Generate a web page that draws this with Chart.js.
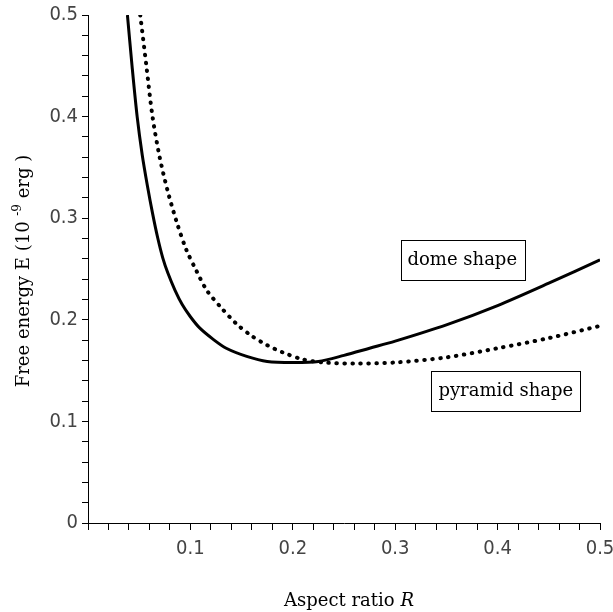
<!DOCTYPE html>
<html>
<head>
<meta charset="utf-8">
<script src="https://cdn.jsdelivr.net/npm/chart.js@4.4.1/dist/chart.umd.min.js"></script>
<style>
  html, body { margin: 0; padding: 0; background: #fff; }
  #wrap { width: 613px; height: 612px; }
</style>
</head>
<body>
<div id="wrap"><canvas id="energy"></canvas></div>
<script>
// aspect ratio R と自由エネルギー E (10^-9 erg)
const domeR = [0.0385, 0.043, 0.048, 0.053, 0.058, 0.063, 0.068, 0.073, 0.078, 0.085, 0.092, 0.100, 0.109, 0.122, 0.135, 0.155, 0.175, 0.200, 0.225, 0.250, 0.275, 0.300, 0.350, 0.400, 0.450, 0.500];
const domeE = [0.500, 0.450, 0.400, 0.362, 0.332, 0.305, 0.281, 0.261, 0.246, 0.229, 0.215, 0.203, 0.192, 0.181, 0.172, 0.164, 0.159, 0.158, 0.159, 0.165, 0.172, 0.179, 0.195, 0.214, 0.236, 0.259];

const pyramidR = [0.051, 0.057, 0.063, 0.070, 0.078, 0.087, 0.096, 0.106, 0.116, 0.130, 0.145, 0.160, 0.175, 0.190, 0.210, 0.230, 0.260, 0.300, 0.350, 0.400, 0.450, 0.500];
const pyramidE = [0.500, 0.450, 0.400, 0.360, 0.326, 0.295, 0.269, 0.248, 0.229, 0.212, 0.196, 0.184, 0.175, 0.168, 0.161, 0.158, 0.157, 0.158, 0.163, 0.172, 0.182, 0.194];

const xTicks = [0.1, 0.2, 0.3, 0.4, 0.5];
const yTicks = [0, 0.1, 0.2, 0.3, 0.4, 0.5];

const toPoints = (xs, ys) => xs.map((x, i) => ({ x: x, y: ys[i] }));
const isMajor = (v, list) => list.some(t => Math.abs(t - v) < 1e-6);

// 曲線ラベル（枠付き）
const shapeLabels = [
    { text: 'dome shape', x: 0.3655, y: 0.259 },
    { text: 'pyramid shape', x: 0.408, y: 0.130 }
];

const serif = '"DejaVu Serif", "Liberation Serif", serif';

const overlayPlugin = {
    id: 'overlay',
    afterDraw(chart) {
        const ctx = chart.ctx;
        const xs = chart.scales.x;
        const ys = chart.scales.y;
        ctx.save();
        ctx.fillStyle = '#000';
        ctx.strokeStyle = '#000';
        ctx.lineWidth = 1;

        // 枠付きラベル
        ctx.font = '18px ' + serif;
        ctx.textAlign = 'center';
        ctx.textBaseline = 'middle';
        shapeLabels.forEach(l => {
            const cx = xs.getPixelForValue(l.x);
            const cy = ys.getPixelForValue(l.y);
            const w = ctx.measureText(l.text).width + 14;
            const h = 40;
            ctx.strokeRect(Math.round(cx - w / 2) + 0.5, Math.round(cy - h / 2) + 0.5, Math.round(w), h);
            ctx.fillText(l.text, cx, cy);
        });

        // x 軸タイトル
        ctx.textAlign = 'left';
        ctx.textBaseline = 'alphabetic';
        const t1 = 'Aspect ratio ';
        ctx.font = '18px ' + serif;
        const w1 = ctx.measureText(t1).width;
        ctx.font = 'italic 18px ' + serif;
        const w2 = ctx.measureText('R').width;
        const sx = 349 - (w1 + w2) / 2;
        ctx.font = '18px ' + serif;
        ctx.fillText(t1, sx, 606);
        ctx.font = 'italic 18px ' + serif;
        ctx.fillText('R', sx + w1, 606);

        // y 軸タイトル（上付き -9）
        ctx.translate(29, 271);
        ctx.rotate(-Math.PI / 2);
        const parts = [
            { s: 'Free energy E (10 ', f: '18px ' + serif, dy: 0 },
            { s: '-9', f: '12px ' + serif, dy: -8 },
            { s: ' erg )', f: '18px ' + serif, dy: 0 }
        ];
        let total = 0;
        parts.forEach(p => { ctx.font = p.f; total += ctx.measureText(p.s).width; });
        let px = -total / 2;
        parts.forEach(p => {
            ctx.font = p.f;
            ctx.fillText(p.s, px, p.dy);
            px += ctx.measureText(p.s).width;
        });
        ctx.restore();
    }
};

const tickFont = { family: '"Liberation Sans Narrow", "DejaVu Sans Condensed", sans-serif', size: 20 };

new Chart(document.getElementById('energy'), {
    type: 'scatter',
    data: {
        datasets: [
            {
                label: 'dome shape',
                data: toPoints(domeR, domeE),
                showLine: true,
                borderColor: '#000',
                borderWidth: 3,
                pointRadius: 0,
                tension: 0.3
            },
            {
                label: 'pyramid shape',
                data: toPoints(pyramidR, pyramidE),
                showLine: true,
                borderColor: '#000',
                borderWidth: 4,
                borderDash: [0.5, 7.5],
                borderCapStyle: 'round',
                pointRadius: 0,
                tension: 0.3
            }
        ]
    },
    options: {
        responsive: true,
        maintainAspectRatio: false,
        animation: false,
        layout: { padding: { top: 15, right: 13, left: 0, bottom: 0 } },
        plugins: {
            legend: { display: false },
            tooltip: { enabled: false }
        },
        scales: {
            x: {
                type: 'linear',
                min: 0,
                max: 0.5,
                afterFit(scale) {
                    scale.height = 89;
                    scale.paddingLeft = 0;
                    scale.paddingRight = 0;
                },
                grid: {
                    drawOnChartArea: false,
                    drawTicks: true,
                    tickLength: 7,
                    color: '#000'
                },
                border: { display: true, color: '#000', width: 1 },
                ticks: {
                    stepSize: 0.02,
                    autoSkip: false,
                    maxRotation: 0,
                    color: '#444',
                    font: tickFont,
                    padding: 7,
                    callback: v => (v > 0 && isMajor(v, xTicks)) ? String(+v.toFixed(1)) : ''
                }
            },
            y: {
                type: 'linear',
                min: 0,
                max: 0.5,
                afterFit(scale) {
                    scale.width = 88;
                    scale.paddingTop = 0;
                    scale.paddingBottom = 0;
                },
                grid: {
                    drawOnChartArea: false,
                    drawTicks: true,
                    tickLength: 6,
                    color: '#000'
                },
                border: { display: true, color: '#000', width: 1 },
                ticks: {
                    stepSize: 0.02,
                    autoSkip: false,
                    color: '#444',
                    font: tickFont,
                    padding: 4,
                    callback: v => isMajor(v, yTicks) ? String(+v.toFixed(1)) : ''
                }
            }
        }
    },
    plugins: [overlayPlugin]
});
</script>
</body>
</html>
